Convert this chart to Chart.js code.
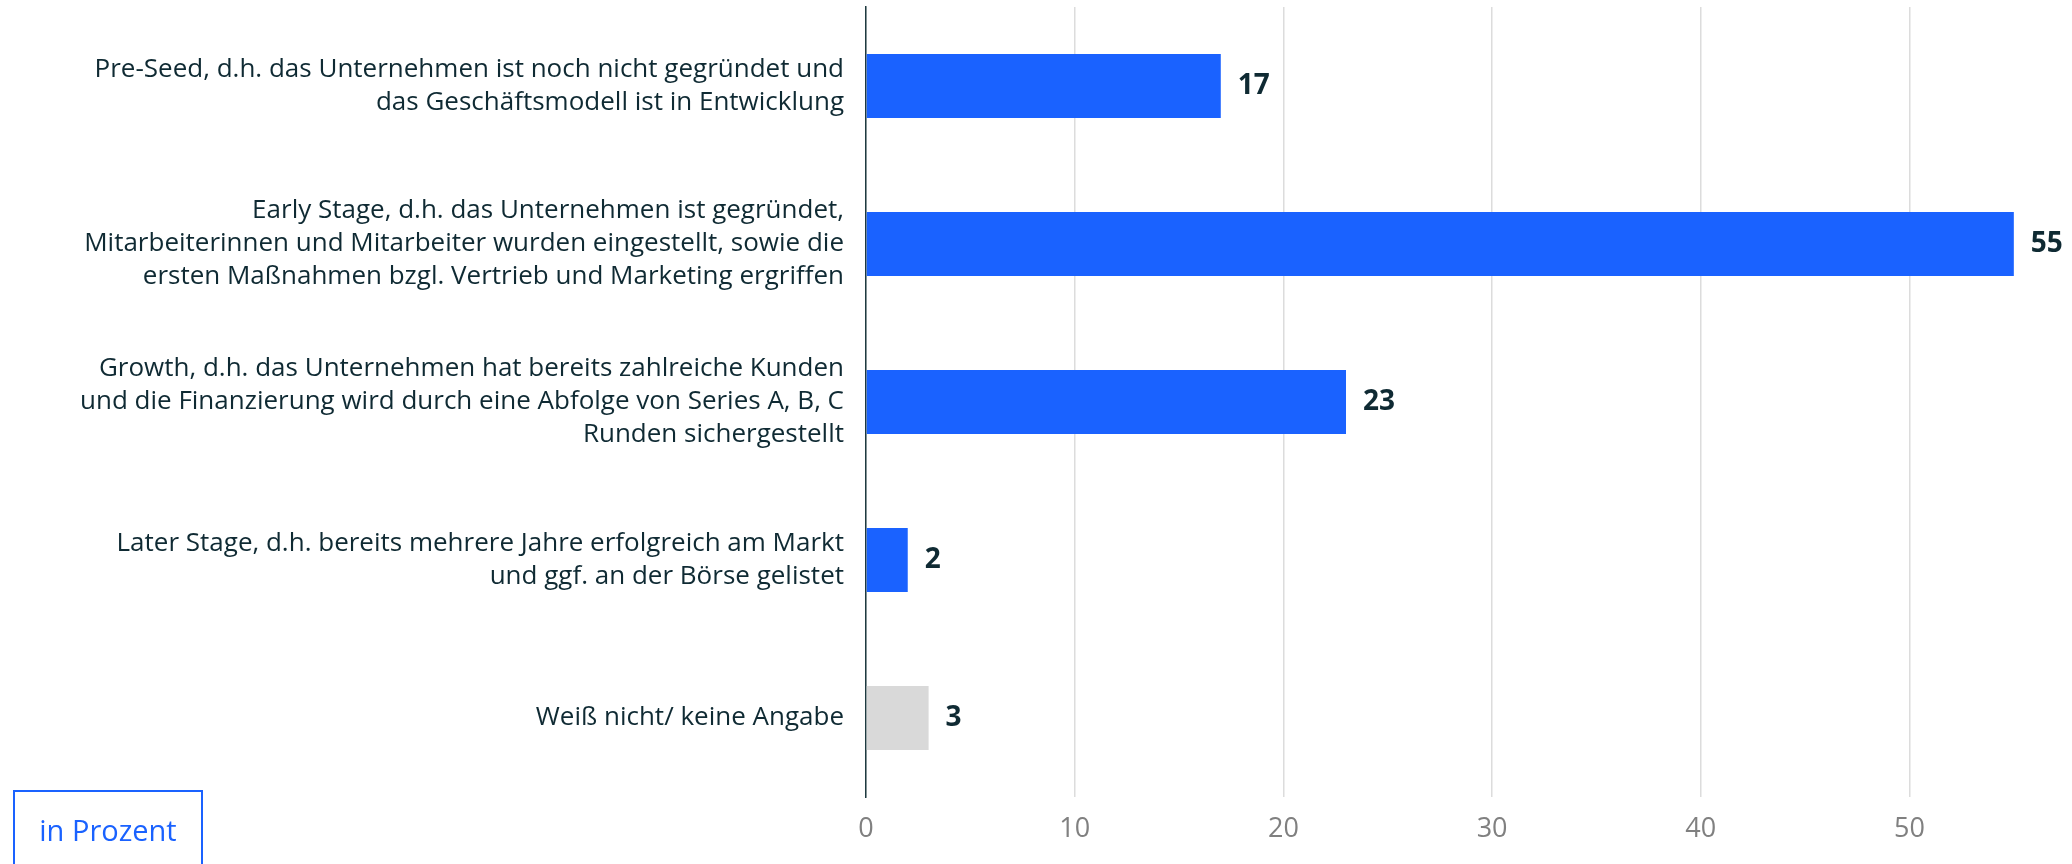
<!DOCTYPE html>
<html lang="de">
<head>
<meta charset="UTF-8">
<title>Unternehmensphase</title>
<script src="https://cdn.jsdelivr.net/npm/chart.js@4.4.1/dist/chart.umd.min.js"></script>
<style>
  body { margin: 0; background: #fff; overflow: hidden; }
  #wrap { position: relative; width: 2072px; height: 864px; }
  #unit {
    position: absolute; left: 13px; top: 790px; width: 190px; height: 120px;
    border: 2px solid #1a62ff; color: #1a62ff;
    font-family: "Open Sans", sans-serif; font-size: 29px; line-height: 34px;
    text-align: center; padding-top: 21px; box-sizing: border-box;
  }
</style>
</head>
<body>
<div id="wrap">
  <canvas id="bar" width="2072" height="864"></canvas>
  <div id="unit">in Prozent</div>
</div>
<script>
// Kategorien (mehrzeilig wie im Original)
const categories = [
  ['Pre-Seed, d.h. das Unternehmen ist noch nicht gegründet und', 'das Geschäftsmodell ist in Entwicklung'],
  ['Early Stage, d.h. das Unternehmen ist gegründet,', 'Mitarbeiterinnen und Mitarbeiter wurden eingestellt, sowie die', 'ersten Maßnahmen bzgl. Vertrieb und Marketing ergriffen'],
  ['Growth, d.h. das Unternehmen hat bereits zahlreiche Kunden', 'und die Finanzierung wird durch eine Abfolge von Series A, B, C', 'Runden sichergestellt'],
  ['Later Stage, d.h. bereits mehrere Jahre erfolgreich am Markt', 'und ggf. an der Börse gelistet'],
  ['Weiß nicht/ keine Angabe']
];
const values = [17, 55, 23, 2, 3];
const barColors = ['#1a62ff', '#1a62ff', '#1a62ff', '#1a62ff', '#d9d9d9'];
const xTicks = [0, 10, 20, 30, 40, 50];

// Werte rechts neben die Balken schreiben
const valueLabels = {
  id: 'valueLabels',
  afterDatasetsDraw(chart) {
    const ctx = chart.ctx;
    const meta = chart.getDatasetMeta(0);
    ctx.save();
    ctx.font = 'bold 28px "Open Sans", sans-serif';
    ctx.fillStyle = '#0f2a33';
    ctx.textAlign = 'left';
    ctx.textBaseline = 'middle';
    meta.data.forEach((bar, i) => {
      ctx.fillText(String(values[i]), bar.x + 17, bar.y);
    });
    ctx.restore();
  }
};

const ctx = document.getElementById('bar').getContext('2d');
const myChart = new Chart(ctx, {
  type: 'bar',
  data: {
    labels: categories,
    datasets: [{
      data: values,
      backgroundColor: barColors,
      borderWidth: 0,
      categoryPercentage: 1,
      barPercentage: 0.405
    }]
  },
  options: {
    indexAxis: 'y',
    responsive: false,
    animation: false,
    layout: { padding: { top: 7, right: 6, bottom: 0, left: 0 } },
    plugins: {
      legend: { display: false },
      tooltip: { enabled: false }
    },
    scales: {
      x: {
        min: 0,
        max: 57.5,
        afterBuildTicks: scale => { scale.ticks = xTicks.map(v => ({ value: v })); },
        afterFit: scale => {
          scale.height = 67;
          scale.paddingLeft = 0;
          scale.paddingRight = 0;
        },
        border: { display: false },
        grid: { color: '#dcdcdc', lineWidth: 1.5, drawTicks: false },
        ticks: {
          color: '#808080',
          padding: 16,
          font: { family: 'Open Sans', size: 27 }
        }
      },
      y: {
        afterFit: scale => {
          scale.width = 866;
          scale.paddingTop = 0;
          scale.paddingBottom = 0;
        },
        border: { color: '#1e3a40', width: 1.5 },
        grid: { display: false, drawTicks: false },
        ticks: {
          color: '#0f2a33',
          padding: 22,
          font: { family: 'Open Sans', size: 26, lineHeight: 1.27 }
        }
      }
    }
  },
  plugins: [valueLabels]
});
</script>
</body>
</html>
